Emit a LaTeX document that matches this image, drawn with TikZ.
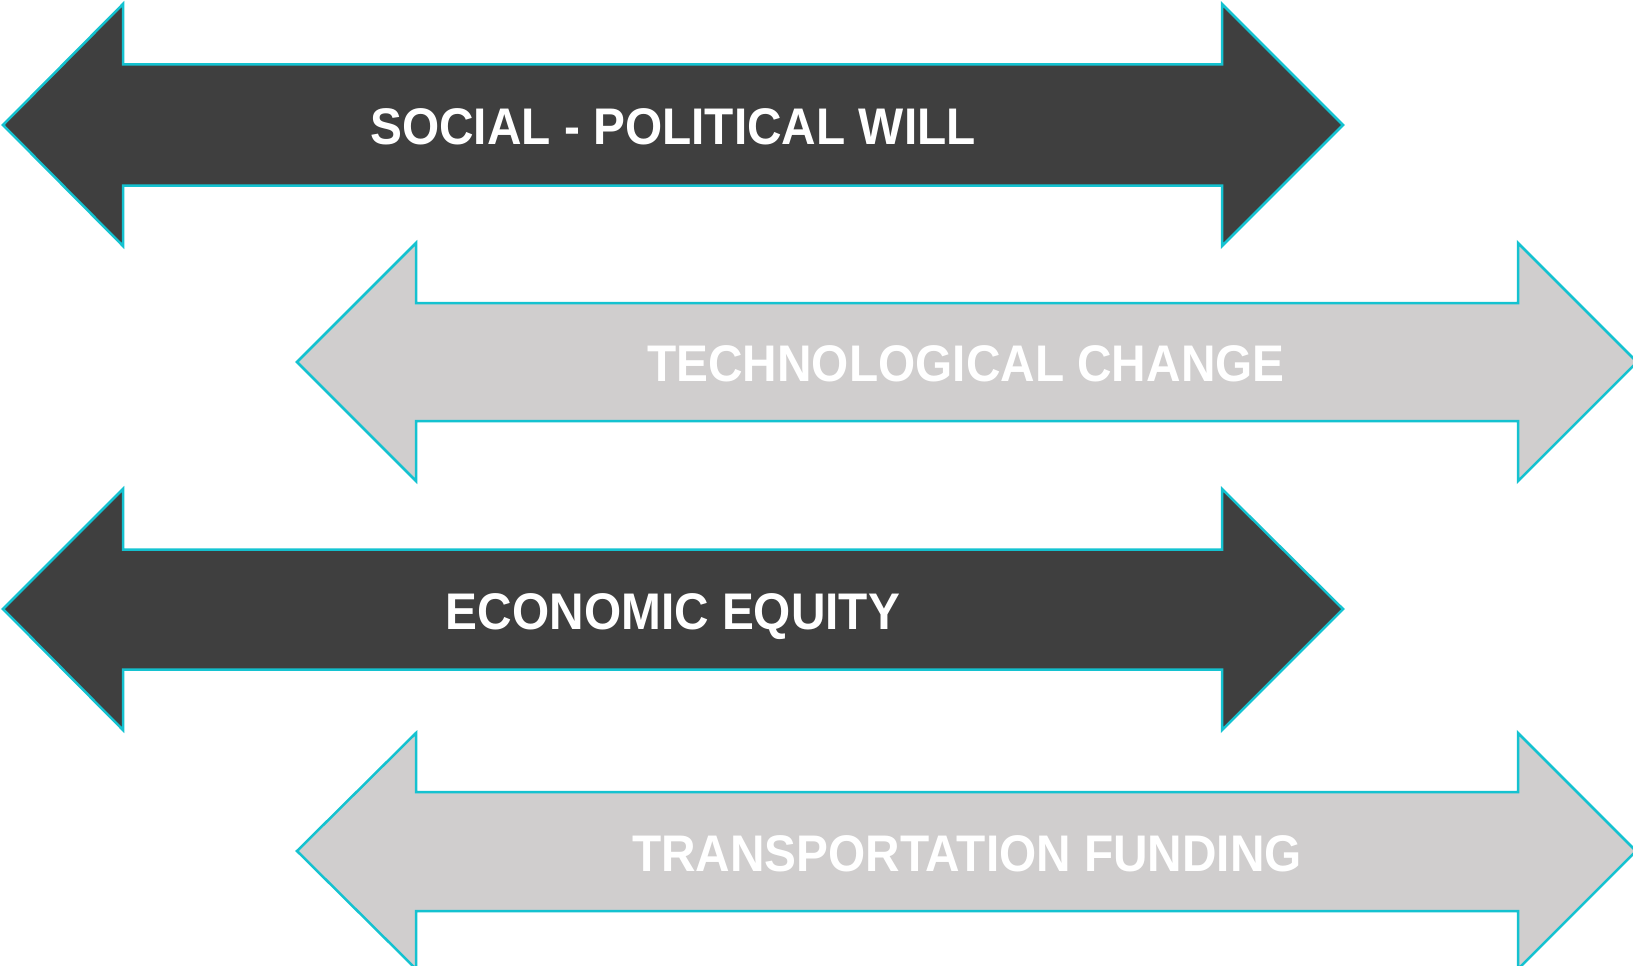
\documentclass[tikz,border=0pt]{standalone}
\usepackage{graphicx}
\usepackage{fontspec}
\setmainfont{Liberation Sans}
\definecolor{darkfill}{HTML}{3F3F3F}
\definecolor{lightfill}{HTML}{D0CECE}
\definecolor{cyanline}{HTML}{14C2D0}
\newcommand{\lbltext}[1]{\scalebox{0.928}[1]{#1}}
\begin{document}
\begin{tikzpicture}[x=1pt,y=-1pt,
  arrowdark/.style={fill=darkfill,draw=cyanline,line width=2.5pt,line join=miter},
  arrowlight/.style={fill=lightfill,draw=cyanline,line width=2.5pt,line join=miter},
  lbl/.style={text=white,font=\fontsize{51.5}{60}\selectfont\bfseries,anchor=base,inner sep=0pt}]
\useasboundingbox (0,0) rectangle (1633,966);
\clip (0,0) rectangle (1633,966);
% arrow 1
\path[arrowdark] (3,125) -- (123,4) -- (123,64.5) -- (1222,64.5) -- (1222,4) -- (1343,125)
  -- (1222,246) -- (1222,185.5) -- (123,185.5) -- (123,246) -- cycle;
% arrow 2
\path[arrowlight] (297,362) -- (416,243) -- (416,303) -- (1518,303) -- (1518,243) -- (1637,362)
  -- (1518,481) -- (1518,421) -- (416,421) -- (416,481) -- cycle;
% arrow 3
\path[arrowdark] (3,609) -- (123,489) -- (123,549.5) -- (1222,549.5) -- (1222,489) -- (1343,609)
  -- (1222,730) -- (1222,669.5) -- (123,669.5) -- (123,730) -- cycle;
% arrow 4
\path[arrowlight] (297,851) -- (416,733) -- (416,792) -- (1518,792) -- (1518,733) -- (1636,851)
  -- (1518,969) -- (1518,911) -- (416,911) -- (416,969) -- cycle;
\node[lbl] (t1) at (673,144) {\lbltext{SOCIAL - POLITICAL WILL}};
\node[lbl] (t2) at (966,381) {\lbltext{TECHNOLOGICAL CHANGE}};
\node[lbl] (t3) at (673,629) {\lbltext{ECONOMIC EQUITY}};
\node[lbl] (t4) at (967,871) {\lbltext{TRANSPORTATION FUNDING}};
\end{tikzpicture}
\end{document}
